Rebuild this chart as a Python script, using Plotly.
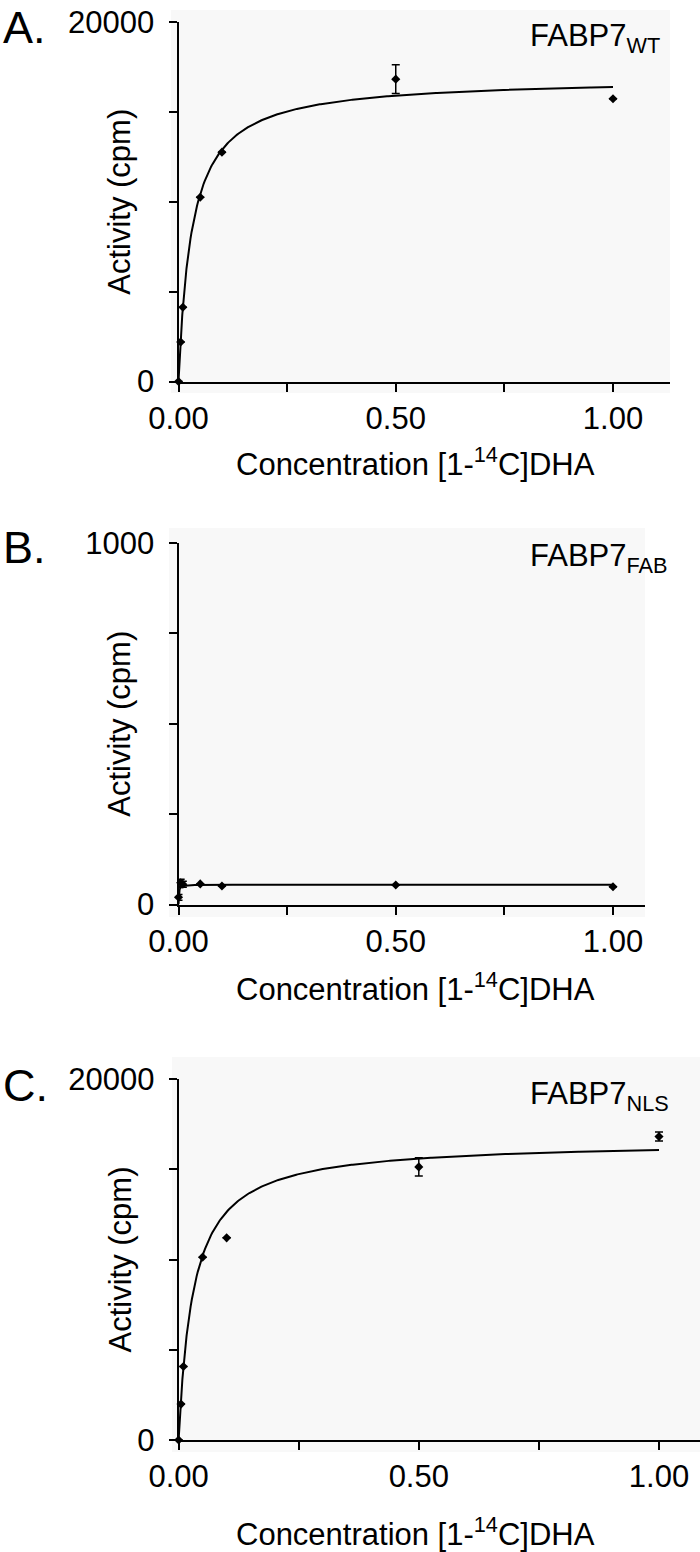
import numpy as np
import plotly.graph_objects as go

# ---------------- data ----------------
conc = [0, 0.005, 0.01, 0.05, 0.1, 0.5, 1.0]

wt_activity = [0, 2200, 4130, 10250, 12760, 16820, 15730]
wt_err = [0, 0, 0, 0, 0, 800, 0]

fab_activity = [20, 60, 56, 57, 51, 54, 49]
fab_err = [8, 10, 8, 0, 0, 0, 0]

nls_activity = [0, 1990, 4070, 10130, 11200, 15130, 16810]
nls_err = [0, 0, 0, 0, 0, 510, 250]

# Michaelis-Menten fit parameters (Vmax, Km) estimated from the drawn curves
wt_fit = (16890, 0.031)
fab_fit = (55, 0.0008)
nls_fit = (16560, 0.031)

panel_letters = ["A.", "B.", "C."]
panel_names = ["FABP7<sub>WT</sub>", "FABP7<sub>FAB</sub>", "FABP7<sub>NLS</sub>"]
x_title = "Concentration [1-<sup>14</sup>C]DHA"
y_title = "Activity (cpm)"
x_tickvals = [0, 0.25, 0.5, 0.75, 1.0]
x_ticktext = ["0.00", "", "0.50", "", "1.00"]

# ---------------- geometry ----------------
W, H = 700, 1552
FONT = "Liberation Sans, Arial, sans-serif"


def px(p):
    return p / W


def py(p):
    return 1 - p / H


fit_x = np.unique(np.concatenate([np.linspace(0, 0.02, 81), np.linspace(0, 1, 401)]))


def mm(params):
    vmax, km = params
    return vmax * fit_x / (km + fit_x)


panels = [
    dict(y=wt_activity, e=wt_err, fit=wt_fit, xl=178.5, xr=670, yt=22, yb=381.5,
         xmax=(670 - 178.5) / 434.5, ymax=20000, bg=(171, 10, 670, 393)),
    dict(y=fab_activity, e=fab_err, fit=fab_fit, xl=178.5, xr=645, yt=543, yb=904.5,
         xmax=(645 - 178.5) / 434.5, ymax=1000, bg=(169, 528, 645, 917)),
    dict(y=nls_activity, e=nls_err, fit=nls_fit, xl=178.6, xr=700, yt=1079, yb=1440,
         xmax=(700 - 178.6) / 480.4, ymax=20000, bg=(172, 1057, 700, 1452)),
]

fig = go.Figure()
layout = dict(
    width=W, height=H,
    margin=dict(l=0, r=0, t=0, b=0, pad=0, autoexpand=False),
    paper_bgcolor="white",
    plot_bgcolor="rgba(0,0,0,0)",
    showlegend=False,
    font=dict(family=FONT, size=31, color="black"),
    annotations=[],
    shapes=[],
)

axis_common = dict(
    showline=True, linewidth=2, linecolor="black",
    ticks="outside", ticklen=8, tickwidth=2, tickcolor="black",
    showgrid=False, zeroline=False, automargin=False,
    tickfont=dict(family=FONT, size=31, color="black"),
)

letter_pos = [(0, "top"), (547, "middle"), (1085, "middle")]

for i, p in enumerate(panels):
    n = "" if i == 0 else str(i + 1)
    xa, ya = "x" + n, "y" + n
    ymax = p["ymax"]
    layout["xaxis" + n] = dict(
        axis_common, domain=[px(p["xl"]), px(p["xr"])], range=[0, p["xmax"]],
        anchor=ya, tickvals=x_tickvals, ticktext=x_ticktext, ticklabelstandoff=0,
    )
    layout["yaxis" + n] = dict(
        axis_common, domain=[py(p["yb"]), py(p["yt"])], range=[0, ymax],
        anchor=xa, tickvals=[0, ymax / 4, ymax / 2, 3 * ymax / 4, ymax],
        ticktext=["0", "", "", "", str(ymax)], ticklabelstandoff=8,
    )
    bx0, by0, bx1, by1 = p["bg"]
    layout["shapes"].append(dict(
        type="rect", xref="paper", yref="paper", layer="below",
        x0=px(bx0), x1=px(bx1), y0=py(by1), y1=py(by0),
        fillcolor="#f8f8f8", line=dict(width=0),
    ))
    fig.add_trace(go.Scatter(
        x=fit_x, y=mm(p["fit"]), mode="lines", xaxis=xa, yaxis=ya,
        line=dict(color="black", width=2), hoverinfo="skip", cliponaxis=False,
    ))
    fig.add_trace(go.Scatter(
        x=conc, y=p["y"], mode="markers", xaxis=xa, yaxis=ya,
        marker=dict(symbol="diamond", size=7, color="black"),
        error_y=dict(type="data", array=p["e"], visible=True, color="black",
                     thickness=1.5, width=4),
        cliponaxis=False,
    ))
    ly, lanchor = letter_pos[i]
    layout["annotations"] += [
        dict(text=panel_letters[i], xref="paper", yref="paper", x=px(1),
             y=py(ly), xanchor="left", yanchor=lanchor,
             showarrow=False, font=dict(family=FONT, size=45, color="black")),
        dict(text=panel_names[i], xref="paper", yref="paper", x=px(528),
             y=py([16, 536, 1074][i]), xanchor="left", yanchor="top",
             showarrow=False, font=dict(family=FONT, size=31, color="black")),
        dict(text=y_title, xref="paper", yref="paper", x=px(120),
             y=py((p["yt"] + p["yb"]) / 2), xanchor="center", yanchor="middle",
             textangle=-90, showarrow=False,
             font=dict(family=FONT, size=31, color="black")),
        dict(text=x_title, xref="paper", yref="paper", x=px(415),
             y=py([462, 987, 1532][i]), xanchor="center", yanchor="middle",
             showarrow=False, font=dict(family=FONT, size=31, color="black")),
    ]

fig.update_layout(**layout)
fig.write_html(
    "out.html",
    config={"displayModeBar": False, "staticPlot": True},
    post_script="document.body.style.margin='0';document.body.style.overflow='hidden';",
)
